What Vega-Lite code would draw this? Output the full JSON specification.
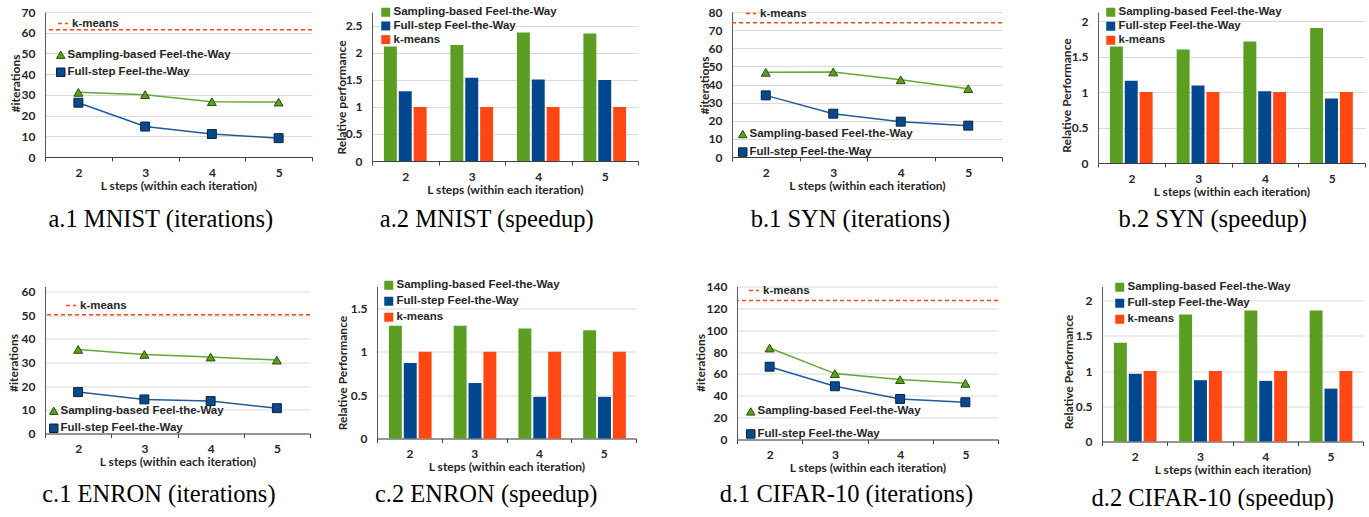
{
"$schema":"https://vega.github.io/schema/vega-lite/v6.json",
"background":"white",
"padding":{"left":7,"top":6,"right":0,"bottom":0},
"datasets":{
"iter":[
{"ds":"MNIST","L":2,"s":"Sampling-based Feel-the-Way","v":31.2},{"ds":"MNIST","L":3,"s":"Sampling-based Feel-the-Way","v":30.1},{"ds":"MNIST","L":4,"s":"Sampling-based Feel-the-Way","v":26.7},{"ds":"MNIST","L":5,"s":"Sampling-based Feel-the-Way","v":26.5},
{"ds":"MNIST","L":2,"s":"Full-step Feel-the-Way","v":26.2},{"ds":"MNIST","L":3,"s":"Full-step Feel-the-Way","v":14.7},{"ds":"MNIST","L":4,"s":"Full-step Feel-the-Way","v":11.1},{"ds":"MNIST","L":5,"s":"Full-step Feel-the-Way","v":9.1},
{"ds":"SYN","L":2,"s":"Sampling-based Feel-the-Way","v":46.7},{"ds":"SYN","L":3,"s":"Sampling-based Feel-the-Way","v":46.9},{"ds":"SYN","L":4,"s":"Sampling-based Feel-the-Way","v":42.6},{"ds":"SYN","L":5,"s":"Sampling-based Feel-the-Way","v":37.7},
{"ds":"SYN","L":2,"s":"Full-step Feel-the-Way","v":34.0},{"ds":"SYN","L":3,"s":"Full-step Feel-the-Way","v":23.9},{"ds":"SYN","L":4,"s":"Full-step Feel-the-Way","v":19.5},{"ds":"SYN","L":5,"s":"Full-step Feel-the-Way","v":17.3},
{"ds":"ENRON","L":2,"s":"Sampling-based Feel-the-Way","v":35.5},{"ds":"ENRON","L":3,"s":"Sampling-based Feel-the-Way","v":33.4},{"ds":"ENRON","L":4,"s":"Sampling-based Feel-the-Way","v":32.3},{"ds":"ENRON","L":5,"s":"Sampling-based Feel-the-Way","v":31.0},
{"ds":"ENRON","L":2,"s":"Full-step Feel-the-Way","v":17.5},{"ds":"ENRON","L":3,"s":"Full-step Feel-the-Way","v":14.4},{"ds":"ENRON","L":4,"s":"Full-step Feel-the-Way","v":13.7},{"ds":"ENRON","L":5,"s":"Full-step Feel-the-Way","v":10.7},
{"ds":"CIFAR-10","L":2,"s":"Sampling-based Feel-the-Way","v":83.7},{"ds":"CIFAR-10","L":3,"s":"Sampling-based Feel-the-Way","v":60.3},{"ds":"CIFAR-10","L":4,"s":"Sampling-based Feel-the-Way","v":54.8},{"ds":"CIFAR-10","L":5,"s":"Sampling-based Feel-the-Way","v":51.4},
{"ds":"CIFAR-10","L":2,"s":"Full-step Feel-the-Way","v":66.6},{"ds":"CIFAR-10","L":3,"s":"Full-step Feel-the-Way","v":48.7},{"ds":"CIFAR-10","L":4,"s":"Full-step Feel-the-Way","v":37.1},{"ds":"CIFAR-10","L":5,"s":"Full-step Feel-the-Way","v":34.1}
],
"kmeans":[
{"ds":"MNIST","s":"k-means","v":61.4},{"ds":"SYN","s":"k-means","v":74.1},{"ds":"ENRON","s":"k-means","v":50.2},{"ds":"CIFAR-10","s":"k-means","v":127.3}
],
"speed":[
{"ds":"MNIST","L":2,"s":"Sampling-based Feel-the-Way","v":2.12},{"ds":"MNIST","L":3,"s":"Sampling-based Feel-the-Way","v":2.15},{"ds":"MNIST","L":4,"s":"Sampling-based Feel-the-Way","v":2.38},{"ds":"MNIST","L":5,"s":"Sampling-based Feel-the-Way","v":2.36},
{"ds":"MNIST","L":2,"s":"Full-step Feel-the-Way","v":1.29},{"ds":"MNIST","L":3,"s":"Full-step Feel-the-Way","v":1.54},{"ds":"MNIST","L":4,"s":"Full-step Feel-the-Way","v":1.51},{"ds":"MNIST","L":5,"s":"Full-step Feel-the-Way","v":1.50},
{"ds":"MNIST","L":2,"s":"k-means","v":1},{"ds":"MNIST","L":3,"s":"k-means","v":1},{"ds":"MNIST","L":4,"s":"k-means","v":1},{"ds":"MNIST","L":5,"s":"k-means","v":1},
{"ds":"SYN","L":2,"s":"Sampling-based Feel-the-Way","v":1.64},{"ds":"SYN","L":3,"s":"Sampling-based Feel-the-Way","v":1.60},{"ds":"SYN","L":4,"s":"Sampling-based Feel-the-Way","v":1.71},{"ds":"SYN","L":5,"s":"Sampling-based Feel-the-Way","v":1.90},
{"ds":"SYN","L":2,"s":"Full-step Feel-the-Way","v":1.16},{"ds":"SYN","L":3,"s":"Full-step Feel-the-Way","v":1.09},{"ds":"SYN","L":4,"s":"Full-step Feel-the-Way","v":1.01},{"ds":"SYN","L":5,"s":"Full-step Feel-the-Way","v":0.91},
{"ds":"SYN","L":2,"s":"k-means","v":1},{"ds":"SYN","L":3,"s":"k-means","v":1},{"ds":"SYN","L":4,"s":"k-means","v":1},{"ds":"SYN","L":5,"s":"k-means","v":1},
{"ds":"ENRON","L":2,"s":"Sampling-based Feel-the-Way","v":1.30},{"ds":"ENRON","L":3,"s":"Sampling-based Feel-the-Way","v":1.30},{"ds":"ENRON","L":4,"s":"Sampling-based Feel-the-Way","v":1.27},{"ds":"ENRON","L":5,"s":"Sampling-based Feel-the-Way","v":1.25},
{"ds":"ENRON","L":2,"s":"Full-step Feel-the-Way","v":0.87},{"ds":"ENRON","L":3,"s":"Full-step Feel-the-Way","v":0.64},{"ds":"ENRON","L":4,"s":"Full-step Feel-the-Way","v":0.48},{"ds":"ENRON","L":5,"s":"Full-step Feel-the-Way","v":0.48},
{"ds":"ENRON","L":2,"s":"k-means","v":1},{"ds":"ENRON","L":3,"s":"k-means","v":1},{"ds":"ENRON","L":4,"s":"k-means","v":1},{"ds":"ENRON","L":5,"s":"k-means","v":1},
{"ds":"CIFAR-10","L":2,"s":"Sampling-based Feel-the-Way","v":1.40},{"ds":"CIFAR-10","L":3,"s":"Sampling-based Feel-the-Way","v":1.80},{"ds":"CIFAR-10","L":4,"s":"Sampling-based Feel-the-Way","v":1.86},{"ds":"CIFAR-10","L":5,"s":"Sampling-based Feel-the-Way","v":1.86},
{"ds":"CIFAR-10","L":2,"s":"Full-step Feel-the-Way","v":0.96},{"ds":"CIFAR-10","L":3,"s":"Full-step Feel-the-Way","v":0.87},{"ds":"CIFAR-10","L":4,"s":"Full-step Feel-the-Way","v":0.86},{"ds":"CIFAR-10","L":5,"s":"Full-step Feel-the-Way","v":0.75},
{"ds":"CIFAR-10","L":2,"s":"k-means","v":1},{"ds":"CIFAR-10","L":3,"s":"k-means","v":1},{"ds":"CIFAR-10","L":4,"s":"k-means","v":1},{"ds":"CIFAR-10","L":5,"s":"k-means","v":1}
]
},
"config":{
"view":{"stroke":null},
"font":"Lato",
"title":{"font":"Liberation Serif","fontSize":24.5,"fontWeight":"normal","color":"#000000","orient":"bottom","frame":"bounds","anchor":"middle"},
"axis":{"labelFont":"Lato","labelFontWeight":"bold","labelFontSize":12,"labelColor":"#262626","titleFont":"Lato","titleFontWeight":"bold","titleFontSize":12,"titleColor":"#262626"},
"axisX":{"domainColor":"#404040","tickColor":"#404040","tickSize":4,"labelPadding":6,"titlePadding":2,"grid":false,"labelAngle":0},
"axisY":{"domainColor":"#595959","ticks":false,"labelPadding":10,"gridColor":"#D9D9D9","titleBaseline":"middle"},
"legend":{"labelFont":"Liberation Sans","labelFontWeight":"bold","labelFontSize":11.5,"labelColor":"#262626","labelLimit":400,"padding":0,"labelOffset":3,"title":null}
},
"resolve":{"scale":{"color":"independent","stroke":"independent","shape":"independent","strokeDash":"independent"},"legend":{"color":"independent","stroke":"independent","shape":"independent","strokeDash":"independent"}},
"spacing":47.5,
"vconcat":[
{"spacing":59,
 "resolve":{"scale":{"color":"independent","stroke":"independent","shape":"independent","strokeDash":"independent"},"legend":{"color":"independent","stroke":"independent","shape":"independent","strokeDash":"independent"}},
 "hconcat":[
 {"spacing":60,"bounds":"flush",
  "resolve":{"scale":{"color":"independent","stroke":"independent","shape":"independent","strokeDash":"independent"},"legend":{"color":"independent","stroke":"independent","shape":"independent","strokeDash":"independent"}},
  "hconcat":[
  {"width":267,"height":145,
   "title":{"text":"a.1 MNIST (iterations)","offset":17},
   "encoding":{"y":{"field":"v","type":"quantitative","scale":{"domain":[0,70],"nice":false},"axis":{"title":"#iterations","values":[0,10,20,30,40,50,60,70],"titleX":-30,"titleY":71}}},
   "layer":[
    {"data":{"name":"kmeans"},"transform":[{"filter":"datum.ds==='MNIST'"}],"mark":{"type":"rule","color":"#FF4713","strokeWidth":1.5},
     "encoding":{"strokeDash":{"field":"s","type":"nominal","scale":{"range":[[4,3]]},"legend":{"orient":"none","legendX":12,"legendY":5.5,"labelOffset":3,"symbolType":"stroke","symbolStrokeColor":"#FF4713","symbolStrokeWidth":1.5,"symbolSize":100}}}},
    {"data":{"name":"iter"},"transform":[{"filter":"datum.ds==='MNIST' && datum.s==='Sampling-based Feel-the-Way'"}],"mark":{"type":"line","strokeWidth":1.5,"color":"#66A832"},
     "encoding":{"x":{"field":"L","type":"ordinal","scale":{"type":"band","paddingInner":0,"paddingOuter":0},"axis":{"title":"L steps (within each iteration)","tickBand":"extent"}}}},
    {"data":{"name":"iter"},"transform":[{"filter":"datum.ds==='MNIST' && datum.s==='Full-step Feel-the-Way'"}],"mark":{"type":"line","strokeWidth":1.5,"color":"#1E5C9B"},
     "encoding":{"x":{"field":"L","type":"ordinal","scale":{"type":"band","paddingInner":0,"paddingOuter":0},"axis":{"title":"L steps (within each iteration)","tickBand":"extent"}}}},
    {"data":{"name":"iter"},"transform":[{"filter":"datum.ds==='MNIST'"}],"mark":{"type":"point","filled":true,"opacity":1,"size":80,"strokeWidth":1},
     "encoding":{"x":{"field":"L","type":"ordinal","scale":{"type":"band","paddingInner":0,"paddingOuter":0},"axis":{"title":"L steps (within each iteration)","tickBand":"extent"}},
      "color":{"field":"s","type":"nominal","scale":{"domain":["Sampling-based Feel-the-Way","Full-step Feel-the-Way"],"range":["#5B9E22","#0A4A8C"]},"legend":{"orient":"none","legendX":10,"legendY":37,"rowPadding":4.5,"title":null,"symbolSize":72,"labelOffset":1,"symbolStrokeWidth":1}},
      "shape":{"field":"s","type":"nominal","scale":{"domain":["Sampling-based Feel-the-Way","Full-step Feel-the-Way"],"range":["triangle-up","square"]},"legend":{"orient":"none","legendX":10,"legendY":37,"rowPadding":4.5,"title":null,"symbolSize":72,"labelOffset":1,"symbolStrokeWidth":1}},
      "stroke":{"field":"s","type":"nominal","scale":{"domain":["Sampling-based Feel-the-Way","Full-step Feel-the-Way"],"range":["#2C4F0E","#0A2240"]},"legend":{"orient":"none","legendX":10,"legendY":37,"rowPadding":4.5,"title":null,"symbolSize":72,"labelOffset":1,"symbolStrokeWidth":1}}}}
   ]},
  {"width":266,"height":149,
   "title":{"text":"a.2 MNIST (speedup)","offset":13},
   "data":{"name":"speed"},"transform":[{"filter":"datum.ds==='MNIST'"}],
   "mark":{"type":"bar"},
   "encoding":{
    "x":{"field":"L","type":"ordinal","scale":{"paddingInner":0,"paddingOuter":0},"axis":{"title":"L steps (within each iteration)","tickBand":"extent"}},
    "xOffset":{"field":"s","type":"nominal","scale":{"domain":["Sampling-based Feel-the-Way","Full-step Feel-the-Way","k-means"],"paddingInner":0.13,"paddingOuter":0.8}},
    "y":{"field":"v","type":"quantitative","scale":{"domain":[0,2.759],"nice":false},"axis":{"title":"Relative performance","values":[0,0.5,1,1.5,2,2.5],"format":"~g","titleX":-31,"titleY":85}},
    "color":{"field":"s","type":"nominal","scale":{"domain":["Sampling-based Feel-the-Way","Full-step Feel-the-Way","k-means"],"range":["#5B9E22","#00478D","#FF4713"]},"legend":{"orient":"none","legendX":8,"legendY":-5.5,"rowPadding":0.7,"symbolType":"square","symbolSize":81,"symbolStrokeWidth":0,"labelOffset":2}}
   }}
 ]},
 {"spacing":96,"bounds":"flush",
  "resolve":{"scale":{"color":"independent","stroke":"independent","shape":"independent","strokeDash":"independent"},"legend":{"color":"independent","stroke":"independent","shape":"independent","strokeDash":"independent"}},
  "hconcat":[
  {"width":270,"height":145,
   "title":{"text":"b.1 SYN (iterations)","offset":17},
   "encoding":{"y":{"field":"v","type":"quantitative","scale":{"domain":[0,80],"nice":false},"axis":{"title":"#iterations","values":[0,10,20,30,40,50,60,70,80],"titleX":-28,"titleY":73}}},
   "layer":[
    {"data":{"name":"kmeans"},"transform":[{"filter":"datum.ds==='SYN'"}],"mark":{"type":"rule","color":"#FF4713","strokeWidth":1.5},
     "encoding":{"strokeDash":{"field":"s","type":"nominal","scale":{"range":[[4,3]]},"legend":{"orient":"none","legendX":13,"legendY":-4.5,"labelOffset":3,"symbolType":"stroke","symbolStrokeColor":"#FF4713","symbolStrokeWidth":1.5,"symbolSize":100}}}},
    {"data":{"name":"iter"},"transform":[{"filter":"datum.ds==='SYN' && datum.s==='Sampling-based Feel-the-Way'"}],"mark":{"type":"line","strokeWidth":1.5,"color":"#66A832"},
     "encoding":{"x":{"field":"L","type":"ordinal","scale":{"type":"band","paddingInner":0,"paddingOuter":0},"axis":{"title":"L steps (within each iteration)","tickBand":"extent"}}}},
    {"data":{"name":"iter"},"transform":[{"filter":"datum.ds==='SYN' && datum.s==='Full-step Feel-the-Way'"}],"mark":{"type":"line","strokeWidth":1.5,"color":"#1E5C9B"},
     "encoding":{"x":{"field":"L","type":"ordinal","scale":{"type":"band","paddingInner":0,"paddingOuter":0},"axis":{"title":"L steps (within each iteration)","tickBand":"extent"}}}},
    {"data":{"name":"iter"},"transform":[{"filter":"datum.ds==='SYN'"}],"mark":{"type":"point","filled":true,"opacity":1,"size":80,"strokeWidth":1},
     "encoding":{"x":{"field":"L","type":"ordinal","scale":{"type":"band","paddingInner":0,"paddingOuter":0},"axis":{"title":"L steps (within each iteration)","tickBand":"extent"}},
      "color":{"field":"s","type":"nominal","scale":{"domain":["Sampling-based Feel-the-Way","Full-step Feel-the-Way"],"range":["#5B9E22","#0A4A8C"]},"legend":{"orient":"none","legendX":5,"legendY":116.3,"rowPadding":5,"title":null,"symbolSize":72,"labelOffset":1,"symbolStrokeWidth":1}},
      "shape":{"field":"s","type":"nominal","scale":{"domain":["Sampling-based Feel-the-Way","Full-step Feel-the-Way"],"range":["triangle-up","square"]},"legend":{"orient":"none","legendX":5,"legendY":116.3,"rowPadding":5,"title":null,"symbolSize":72,"labelOffset":1,"symbolStrokeWidth":1}},
      "stroke":{"field":"s","type":"nominal","scale":{"domain":["Sampling-based Feel-the-Way","Full-step Feel-the-Way"],"range":["#2C4F0E","#0A2240"]},"legend":{"orient":"none","legendX":5,"legendY":116.3,"rowPadding":5,"title":null,"symbolSize":72,"labelOffset":1,"symbolStrokeWidth":1}}}}
   ]},
  {"width":267,"height":151,
   "title":{"text":"b.2 SYN (speedup)","offset":11},
   "data":{"name":"speed"},"transform":[{"filter":"datum.ds==='SYN'"}],
   "mark":{"type":"bar"},
   "encoding":{
    "x":{"field":"L","type":"ordinal","scale":{"paddingInner":0,"paddingOuter":0},"axis":{"title":"L steps (within each iteration)","tickBand":"extent"}},
    "xOffset":{"field":"s","type":"nominal","scale":{"domain":["Sampling-based Feel-the-Way","Full-step Feel-the-Way","k-means"],"paddingInner":0.13,"paddingOuter":0.8}},
    "y":{"field":"v","type":"quantitative","scale":{"domain":[0,2.127],"nice":false},"axis":{"title":"Relative Performance","values":[0,0.5,1,1.5,2],"format":"~g","titleX":-32,"titleY":83}},
    "color":{"field":"s","type":"nominal","scale":{"domain":["Sampling-based Feel-the-Way","Full-step Feel-the-Way","k-means"],"range":["#5B9E22","#00478D","#FF4713"]},"legend":{"orient":"none","legendX":7,"legendY":-5.5,"rowPadding":1,"symbolType":"square","symbolSize":81,"symbolStrokeWidth":0,"labelOffset":2}}
   }}
 ]}
]},
{"spacing":57,
 "resolve":{"scale":{"color":"independent","stroke":"independent","shape":"independent","strokeDash":"independent"},"legend":{"color":"independent","stroke":"independent","shape":"independent","strokeDash":"independent"}},
 "hconcat":[
 {"spacing":67,"bounds":"flush",
  "resolve":{"scale":{"color":"independent","stroke":"independent","shape":"independent","strokeDash":"independent"},"legend":{"color":"independent","stroke":"independent","shape":"independent","strokeDash":"independent"}},
  "hconcat":[
  {"width":265,"height":147,
   "title":{"text":"c.1 ENRON (iterations)","offset":15},
   "encoding":{"y":{"field":"v","type":"quantitative","scale":{"domain":[0,62.1],"nice":false},"axis":{"title":"#iterations","values":[0,10,20,30,40,50,60],"titleX":-32,"titleY":76}}},
   "layer":[
    {"data":{"name":"kmeans"},"transform":[{"filter":"datum.ds==='ENRON'"}],"mark":{"type":"rule","color":"#FF4713","strokeWidth":1.5},
     "encoding":{"strokeDash":{"field":"s","type":"nominal","scale":{"range":[[4,3]]},"legend":{"orient":"none","legendX":20,"legendY":13,"labelOffset":3,"symbolType":"stroke","symbolStrokeColor":"#FF4713","symbolStrokeWidth":1.5,"symbolSize":100}}}},
    {"data":{"name":"iter"},"transform":[{"filter":"datum.ds==='ENRON' && datum.s==='Sampling-based Feel-the-Way'"}],"mark":{"type":"line","strokeWidth":1.5,"color":"#66A832"},
     "encoding":{"x":{"field":"L","type":"ordinal","scale":{"type":"band","paddingInner":0,"paddingOuter":0},"axis":{"title":"L steps (within each iteration)","tickBand":"extent"}}}},
    {"data":{"name":"iter"},"transform":[{"filter":"datum.ds==='ENRON' && datum.s==='Full-step Feel-the-Way'"}],"mark":{"type":"line","strokeWidth":1.5,"color":"#1E5C9B"},
     "encoding":{"x":{"field":"L","type":"ordinal","scale":{"type":"band","paddingInner":0,"paddingOuter":0},"axis":{"title":"L steps (within each iteration)","tickBand":"extent"}}}},
    {"data":{"name":"iter"},"transform":[{"filter":"datum.ds==='ENRON'"}],"mark":{"type":"point","filled":true,"opacity":1,"size":80,"strokeWidth":1},
     "encoding":{"x":{"field":"L","type":"ordinal","scale":{"type":"band","paddingInner":0,"paddingOuter":0},"axis":{"title":"L steps (within each iteration)","tickBand":"extent"}},
      "color":{"field":"s","type":"nominal","scale":{"domain":["Sampling-based Feel-the-Way","Full-step Feel-the-Way"],"range":["#5B9E22","#0A4A8C"]},"legend":{"orient":"none","legendX":3,"legendY":118.5,"rowPadding":4.5,"title":null,"symbolSize":72,"labelOffset":1,"symbolStrokeWidth":1}},
      "shape":{"field":"s","type":"nominal","scale":{"domain":["Sampling-based Feel-the-Way","Full-step Feel-the-Way"],"range":["triangle-up","square"]},"legend":{"orient":"none","legendX":3,"legendY":118.5,"rowPadding":4.5,"title":null,"symbolSize":72,"labelOffset":1,"symbolStrokeWidth":1}},
      "stroke":{"field":"s","type":"nominal","scale":{"domain":["Sampling-based Feel-the-Way","Full-step Feel-the-Way"],"range":["#2C4F0E","#0A2240"]},"legend":{"orient":"none","legendX":3,"legendY":118.5,"rowPadding":4.5,"title":null,"symbolSize":72,"labelOffset":1,"symbolStrokeWidth":1}}}}
   ]},
  {"width":259,"height":152,
   "title":{"text":"c.2 ENRON (speedup)","offset":10},
   "data":{"name":"speed"},"transform":[{"filter":"datum.ds==='ENRON'"}],
   "mark":{"type":"bar"},
   "encoding":{
    "x":{"field":"L","type":"ordinal","scale":{"paddingInner":0,"paddingOuter":0},"axis":{"title":"L steps (within each iteration)","tickBand":"extent"}},
    "xOffset":{"field":"s","type":"nominal","scale":{"domain":["Sampling-based Feel-the-Way","Full-step Feel-the-Way","k-means"],"paddingInner":0.13,"paddingOuter":0.8}},
    "y":{"field":"v","type":"quantitative","scale":{"domain":[0,1.754],"nice":false},"axis":{"title":"Relative Performance","values":[0,0.5,1,1.5],"format":"~g","titleX":-35,"titleY":86}},
    "color":{"field":"s","type":"nominal","scale":{"domain":["Sampling-based Feel-the-Way","Full-step Feel-the-Way","k-means"],"range":["#5B9E22","#00478D","#FF4713"]},"legend":{"orient":"none","legendX":6,"legendY":-7,"rowPadding":3,"symbolType":"square","symbolSize":81,"symbolStrokeWidth":0,"labelOffset":2}}
   }}
 ]},
 {"spacing":104,"bounds":"flush",
  "resolve":{"scale":{"color":"independent","stroke":"independent","shape":"independent","strokeDash":"independent"},"legend":{"color":"independent","stroke":"independent","shape":"independent","strokeDash":"independent"}},
  "hconcat":[
  {"width":261,"height":153,
   "title":{"text":"d.1 CIFAR-10 (iterations)","offset":9},
   "encoding":{"y":{"field":"v","type":"quantitative","scale":{"domain":[0,140],"nice":false},"axis":{"title":"#iterations","values":[0,20,40,60,80,100,120,140],"titleX":-37,"titleY":76}}},
   "layer":[
    {"data":{"name":"kmeans"},"transform":[{"filter":"datum.ds==='CIFAR-10'"}],"mark":{"type":"rule","color":"#FF4713","strokeWidth":1.5},
     "encoding":{"strokeDash":{"field":"s","type":"nominal","scale":{"range":[[4,3]]},"legend":{"orient":"none","legendX":11,"legendY":-2,"labelOffset":3,"symbolType":"stroke","symbolStrokeColor":"#FF4713","symbolStrokeWidth":1.5,"symbolSize":100}}}},
    {"data":{"name":"iter"},"transform":[{"filter":"datum.ds==='CIFAR-10' && datum.s==='Sampling-based Feel-the-Way'"}],"mark":{"type":"line","strokeWidth":1.5,"color":"#66A832"},
     "encoding":{"x":{"field":"L","type":"ordinal","scale":{"type":"band","paddingInner":0,"paddingOuter":0},"axis":{"title":"L steps (within each iteration)","tickBand":"extent"}}}},
    {"data":{"name":"iter"},"transform":[{"filter":"datum.ds==='CIFAR-10' && datum.s==='Full-step Feel-the-Way'"}],"mark":{"type":"line","strokeWidth":1.5,"color":"#1E5C9B"},
     "encoding":{"x":{"field":"L","type":"ordinal","scale":{"type":"band","paddingInner":0,"paddingOuter":0},"axis":{"title":"L steps (within each iteration)","tickBand":"extent"}}}},
    {"data":{"name":"iter"},"transform":[{"filter":"datum.ds==='CIFAR-10'"}],"mark":{"type":"point","filled":true,"opacity":1,"size":80,"strokeWidth":1},
     "encoding":{"x":{"field":"L","type":"ordinal","scale":{"type":"band","paddingInner":0,"paddingOuter":0},"axis":{"title":"L steps (within each iteration)","tickBand":"extent"}},
      "color":{"field":"s","type":"nominal","scale":{"domain":["Sampling-based Feel-the-Way","Full-step Feel-the-Way"],"range":["#5B9E22","#0A4A8C"]},"legend":{"orient":"none","legendX":8,"legendY":119.2,"rowPadding":9.5,"title":null,"symbolSize":72,"labelOffset":1,"symbolStrokeWidth":1}},
      "shape":{"field":"s","type":"nominal","scale":{"domain":["Sampling-based Feel-the-Way","Full-step Feel-the-Way"],"range":["triangle-up","square"]},"legend":{"orient":"none","legendX":8,"legendY":119.2,"rowPadding":9.5,"title":null,"symbolSize":72,"labelOffset":1,"symbolStrokeWidth":1}},
      "stroke":{"field":"s","type":"nominal","scale":{"domain":["Sampling-based Feel-the-Way","Full-step Feel-the-Way"],"range":["#2C4F0E","#0A2240"]},"legend":{"orient":"none","legendX":8,"legendY":119.2,"rowPadding":9.5,"title":null,"symbolSize":72,"labelOffset":1,"symbolStrokeWidth":1}}}}
   ]},
  {"width":261,"height":155,
   "title":{"text":"d.2 CIFAR-10 (speedup)","offset":11},
   "data":{"name":"speed"},"transform":[{"filter":"datum.ds==='CIFAR-10'"}],
   "mark":{"type":"bar"},
   "encoding":{
    "x":{"field":"L","type":"ordinal","scale":{"paddingInner":0,"paddingOuter":0},"axis":{"title":"L steps (within each iteration)","tickBand":"extent"}},
    "xOffset":{"field":"s","type":"nominal","scale":{"domain":["Sampling-based Feel-the-Way","Full-step Feel-the-Way","k-means"],"paddingInner":0.13,"paddingOuter":0.8}},
    "y":{"field":"v","type":"quantitative","scale":{"domain":[0,2.199],"nice":false},"axis":{"title":"Relative Performance","values":[0,0.5,1,1.5,2],"format":"~g","titleX":-34,"titleY":85}},
    "color":{"field":"s","type":"nominal","scale":{"domain":["Sampling-based Feel-the-Way","Full-step Feel-the-Way","k-means"],"range":["#5B9E22","#00478D","#FF4713"]},"legend":{"orient":"none","legendX":12,"legendY":-5,"rowPadding":3,"symbolType":"square","symbolSize":81,"symbolStrokeWidth":0,"labelOffset":2}}
   }}
 ]}
]}
]
}
